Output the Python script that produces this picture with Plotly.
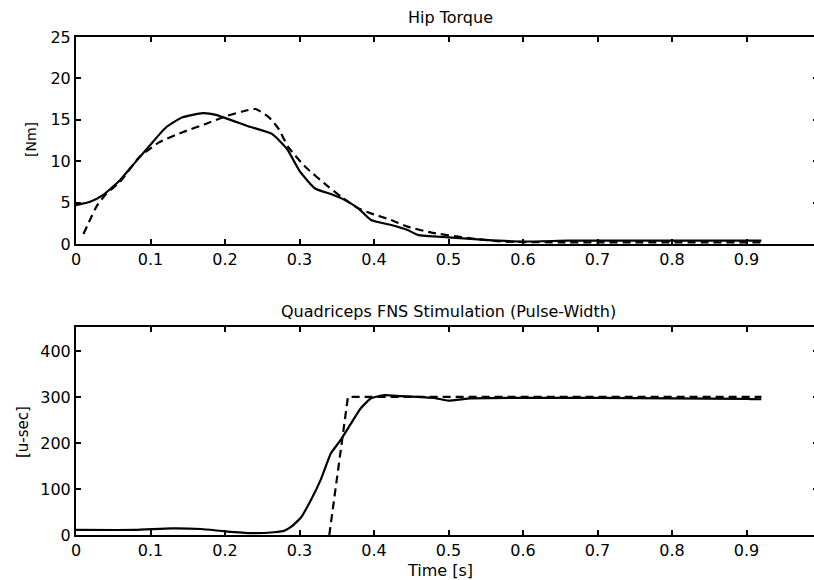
import plotly.graph_objects as go

# Hip torque (top)
hip_t_meas = [0.0, 0.019, 0.036, 0.059, 0.076, 0.099, 0.121, 0.143, 0.17, 0.188, 0.21, 0.232, 0.263,
              0.283, 0.301, 0.321, 0.343, 0.361, 0.379, 0.396, 0.423, 0.445, 0.459, 0.5, 0.549, 0.6,
              0.66, 0.7, 0.79, 0.92]
hip_meas = [4.7, 5.1, 5.9, 7.7, 9.5, 11.9, 14.1, 15.3, 15.8, 15.6, 14.9, 14.2, 13.3,
            11.5, 8.7, 6.7, 6.0, 5.3, 4.3, 2.9, 2.3, 1.7, 1.1, 0.8, 0.5, 0.3,
            0.4, 0.4, 0.4, 0.4]
hip_t_des = [0.01, 0.028, 0.041, 0.059, 0.085, 0.112, 0.143, 0.174, 0.2, 0.223, 0.241, 0.259, 0.272,
             0.285, 0.308, 0.339, 0.356, 0.379, 0.396, 0.423, 0.445, 0.476, 0.52, 0.57, 0.65, 0.75,
             0.85, 0.92]
hip_des = [1.2, 4.6, 6.1, 7.5, 10.5, 12.3, 13.5, 14.5, 15.4, 16.0, 16.3, 15.3, 13.9,
           11.7, 9.3, 6.9, 5.7, 4.3, 3.7, 2.9, 2.1, 1.4, 0.8, 0.3, 0.2, 0.2,
           0.2, 0.2]

# Quadriceps stimulation (bottom)
pw_t_meas = [0.0, 0.079, 0.128, 0.168, 0.2, 0.235, 0.266, 0.28, 0.289, 0.302, 0.315, 0.329, 0.342,
             0.355, 0.369, 0.382, 0.396, 0.414, 0.436, 0.48, 0.5, 0.53, 0.6, 0.7, 0.8, 0.9, 0.92]
pw_meas = [11, 11, 14.5, 13, 8, 4, 6, 9.5, 18, 38, 75, 122, 177,
           206, 242, 275, 297, 304, 302, 298, 292, 297, 298, 298, 297, 296, 295]
pw_t_des = [0.34, 0.365, 0.43, 0.5, 0.6, 0.7, 0.8, 0.92]
pw_des = [0, 300, 300, 300, 300, 300, 300, 300]

x_ticks = [0, 0.1, 0.2, 0.3, 0.4, 0.5, 0.6, 0.7, 0.8, 0.9]
x_tick_text = ["0", "0.1", "0.2", "0.3", "0.4", "0.5", "0.6", "0.7", "0.8", "0.9"]
hip_y_ticks = [0, 5, 10, 15, 20, 25]
pw_y_ticks = [0, 100, 200, 300, 400]

# figure slightly wider than the window so the right frame edge falls just outside, as in the scan
W, H = 818, 580

fig = go.Figure()
fig.add_trace(go.Scatter(x=hip_t_meas, y=hip_meas, mode="lines",
                         line=dict(color="black", width=2.2, shape="spline", smoothing=0.5),
                         xaxis="x", yaxis="y", showlegend=False))
fig.add_trace(go.Scatter(x=hip_t_des, y=hip_des, mode="lines",
                         line=dict(color="black", width=2.2, dash="8px,5px", shape="spline", smoothing=0.5),
                         xaxis="x", yaxis="y", showlegend=False))
fig.add_trace(go.Scatter(x=pw_t_meas, y=pw_meas, mode="lines",
                         line=dict(color="black", width=2.2, shape="spline", smoothing=0.4),
                         xaxis="x2", yaxis="y2", showlegend=False))
fig.add_trace(go.Scatter(x=pw_t_des, y=pw_des, mode="lines",
                         line=dict(color="black", width=2.2, dash="8px,5px"),
                         xaxis="x2", yaxis="y2", showlegend=False))

left_px, right_px = 76, 818
x_range = [0, (right_px - left_px) / 745]
xdom = [left_px / W, right_px / W]
top_dom = [1 - 244 / H, 1 - 37 / H]
bot_dom = [1 - 535 / H, 1 - 327 / H]

font = dict(family="DejaVu Sans, Liberation Sans, sans-serif", size=16, color="black")
axis_common = dict(showline=True, linecolor="black", linewidth=2, mirror="ticks", ticks="inside",
                   ticklen=5, tickwidth=1.5, tickcolor="black", showgrid=False, zeroline=False,
                   tickfont=font, automargin=False)


def label(text, xp, yp, size, angle=0):
    return dict(text=text, x=xp / W, y=1 - yp / H, xref="paper", yref="paper", showarrow=False,
                xanchor="center", yanchor="middle", textangle=angle, font=dict(font, size=size))


fig.update_layout(
    template="none",
    width=W, height=H, margin=dict(l=0, r=0, t=0, b=0, pad=0, autoexpand=False),
    plot_bgcolor="white", paper_bgcolor="white", font=font,
    xaxis=dict(axis_common, domain=xdom, range=x_range, tickvals=x_ticks, ticktext=x_tick_text, anchor="y"),
    yaxis=dict(axis_common, domain=top_dom, range=[0, 25], tickvals=hip_y_ticks, anchor="x"),
    xaxis2=dict(axis_common, domain=xdom, range=x_range, tickvals=x_ticks, ticktext=x_tick_text, anchor="y2"),
    yaxis2=dict(axis_common, domain=bot_dom, range=[0, 452], tickvals=pw_y_ticks, anchor="x2"),
    annotations=[
        label("Hip Torque", 450, 18, 16),
        label("Quadriceps FNS Stimulation (Pulse-Width)", 448, 311, 16),
        label("Time [s]", 440, 570, 16),
        label("[Nm]", 31, 140, 14, -90),
        label("[u-sec]", 23, 432, 15, -90),
    ],
)

fig.write_html("out.html", config={"displayModeBar": False},
               post_script="document.body.style.margin='0px';document.body.style.overflow='hidden';")
